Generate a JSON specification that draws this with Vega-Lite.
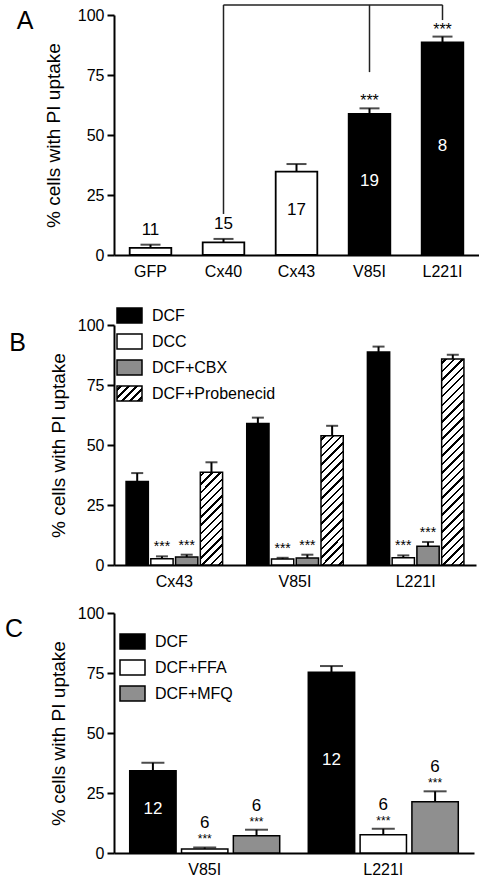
{
"$schema": "https://vega.github.io/schema/vega-lite/v6.json",
"background": "white",
"padding": {"left": 4, "top": 4, "right": 0, "bottom": 0},
"spacing": 16,
"resolve": {"scale": {"fill": "independent", "xOffset": "independent", "x": "independent", "y": "independent"}, "legend": {"fill": "independent"}},
"config": {
  "font": "Liberation Sans",
  "view": {"stroke": null},
  "axis": {"labelFont": "Liberation Sans", "labelFontSize": 16, "labelColor": "black", "titleFont": "Liberation Sans", "titleFontSize": 19, "titleFontWeight": "normal", "titleColor": "black", "domainColor": "black", "domainWidth": 2, "tickColor": "black", "tickWidth": 2, "grid": false},
  "axisX": {"ticks": false, "labelPadding": 8, "labelAngle": 0},
  "axisY": {"tickSize": 7, "labelPadding": 3},
  "legend": {"labelFont": "Liberation Sans", "labelFontSize": 16, "labelColor": "black", "symbolStrokeColor": "black", "symbolStrokeWidth": 1.5, "symbolType": "M-1,-0.6H1V0.6H-1Z", "symbolSize": 625, "symbolOpacity": 1, "labelOffset": 9, "rowPadding": 2},
  "title": {"fontWeight": "normal", "color": "black", "font": "Liberation Sans"},
  "text": {"font": "Liberation Sans"}
},
"vconcat": [
{
  "width": 365, "height": 240,
  "title": {"text": "A", "orient": "left", "anchor": "end", "angle": 0, "align": "right", "baseline": "top", "fontSize": 25, "offset": -5.9, "frame": "group", "dy": -6},
  "data": {"values": [
    {"genotype": "GFP", "value": 3.0, "err": 4.3, "n": "11", "sig": ""},
    {"genotype": "Cx40", "value": 5.3, "err": 6.7, "n": "15", "sig": ""},
    {"genotype": "Cx43", "value": 34.7, "err": 37.9, "n": "17", "sig": ""},
    {"genotype": "V85I", "value": 58.8, "err": 61.1, "n": "19", "sig": "***"},
    {"genotype": "L221I", "value": 88.6, "err": 91.0, "n": "8", "sig": "***"}
  ]},
  "encoding": {
    "x": {"field": "genotype", "type": "nominal", "sort": ["GFP", "Cx40", "Cx43", "V85I", "L221I"], "scale": {"paddingInner": 0.43, "paddingOuter": 0.215}, "title": null}
  },
  "layer": [
    {"mark": {"type": "bar", "stroke": "black", "strokeWidth": 1.8},
     "encoding": {
       "y": {"field": "value", "type": "quantitative", "scale": {"domain": [0, 100], "nice": false}, "title": "% cells with PI uptake", "axis": {"titlePadding": 14, "values": [0, 25, 50, 75, 100]}},
       "fill": {"condition": {"test": "datum.genotype==='V85I'||datum.genotype==='L221I'", "value": "black"}, "value": "white"}
     }},
    {"mark": {"type": "rule", "strokeWidth": 2, "color": "black"},
     "encoding": {"y": {"field": "value", "type": "quantitative", "title": "% cells with PI uptake", "axis": {"titlePadding": 14, "values": [0, 25, 50, 75, 100]}}, "y2": {"field": "err"}}},
    {"mark": {"type": "tick", "size": 20, "thickness": 2, "color": "black", "orient": "horizontal"},
     "encoding": {"y": {"field": "err", "type": "quantitative", "title": "% cells with PI uptake", "axis": {"titlePadding": 14, "values": [0, 25, 50, 75, 100]}}}},
    {"transform": [{"filter": "datum.value < 20"}],
     "mark": {"type": "text", "fontSize": 17, "baseline": "middle", "dy": -15, "color": "black"},
     "encoding": {"y": {"field": "err", "type": "quantitative", "title": "% cells with PI uptake", "axis": {"titlePadding": 14, "values": [0, 25, 50, 75, 100]}}, "text": {"field": "n"}}},
    {"transform": [{"filter": "datum.value >= 20"}, {"calculate": "datum.value / 2", "as": "mid"}],
     "mark": {"type": "text", "fontSize": 17, "baseline": "middle", "dy": -3},
     "encoding": {"y": {"field": "mid", "type": "quantitative", "title": "% cells with PI uptake", "axis": {"titlePadding": 14, "values": [0, 25, 50, 75, 100]}}, "text": {"field": "n"},
       "color": {"condition": {"test": "datum.genotype==='V85I'||datum.genotype==='L221I'", "value": "white"}, "value": "black"}}},
    {"transform": [{"filter": "datum.sig !== ''"}],
     "mark": {"type": "text", "fontSize": 16, "baseline": "middle", "dy": -7, "color": "black"},
     "encoding": {"y": {"field": "err", "type": "quantitative", "title": "% cells with PI uptake", "axis": {"titlePadding": 14, "values": [0, 25, 50, 75, 100]}}, "text": {"field": "sig"}}},
    {"data": {"values": [{}]},
     "mark": {"type": "rule", "strokeWidth": 1.5, "color": "#222222"},
     "encoding": {"x": {"datum": "Cx40"}, "x2": {"datum": "L221I"}, "y": {"datum": 104.2}}},
    {"data": {"values": [{}]},
     "mark": {"type": "rule", "strokeWidth": 1.5, "color": "#222222"},
     "encoding": {"x": {"datum": "Cx40"}, "y": {"datum": 104.2}, "y2": {"datum": 17.1}}},
    {"data": {"values": [{}]},
     "mark": {"type": "rule", "strokeWidth": 1.5, "color": "#222222"},
     "encoding": {"x": {"datum": "V85I"}, "y": {"datum": 104.2}, "y2": {"datum": 76.2}}},
    {"data": {"values": [{}]},
     "mark": {"type": "rule", "strokeWidth": 1.5, "color": "#222222"},
     "encoding": {"x": {"datum": "L221I"}, "y": {"datum": 104.2}, "y2": {"datum": 97.9}}}
  ]
},
{
  "width": 362, "height": 240,
  "title": {"text": "B", "orient": "left", "anchor": "end", "angle": 0, "align": "right", "baseline": "top", "fontSize": 25, "offset": 6.6, "frame": "group", "dy": 6},
  "data": {"values": [
    {"genotype": "Cx43", "treatment": "DCF", "value": 34.8, "err": 38.3, "sig": ""},
    {"genotype": "Cx43", "treatment": "DCC", "value": 2.6, "err": 3.6, "sig": "***"},
    {"genotype": "Cx43", "treatment": "DCF+CBX", "value": 3.3, "err": 4.3, "sig": "***"},
    {"genotype": "Cx43", "treatment": "DCF+Probenecid", "value": 38.6, "err": 42.8, "sig": ""},
    {"genotype": "V85I", "treatment": "DCF", "value": 59.0, "err": 61.4, "sig": ""},
    {"genotype": "V85I", "treatment": "DCC", "value": 2.5, "err": 3.0, "sig": "***"},
    {"genotype": "V85I", "treatment": "DCF+CBX", "value": 2.9, "err": 4.3, "sig": "***"},
    {"genotype": "V85I", "treatment": "DCF+Probenecid", "value": 53.9, "err": 58.0, "sig": ""},
    {"genotype": "L221I", "treatment": "DCF", "value": 88.7, "err": 91.0, "sig": ""},
    {"genotype": "L221I", "treatment": "DCC", "value": 3.0, "err": 4.0, "sig": "***"},
    {"genotype": "L221I", "treatment": "DCF+CBX", "value": 7.8, "err": 9.6, "sig": "***"},
    {"genotype": "L221I", "treatment": "DCF+Probenecid", "value": 85.8, "err": 87.6, "sig": ""}
  ]},
  "encoding": {
    "x": {"field": "genotype", "type": "nominal", "sort": ["Cx43", "V85I", "L221I"], "scale": {"paddingInner": 0.2, "paddingOuter": 0.1}, "title": null},
    "xOffset": {"field": "treatment", "type": "nominal", "sort": ["DCF", "DCC", "DCF+CBX", "DCF+Probenecid"], "scale": {"paddingInner": 0.1, "paddingOuter": 0}}
  },
  "layer": [
    {"mark": {"type": "bar", "stroke": "black", "strokeWidth": 1.5},
     "encoding": {
       "y": {"field": "value", "type": "quantitative", "scale": {"domain": [0, 100], "nice": false}, "title": "% cells with PI uptake", "axis": {"titlePadding": 9, "values": [0, 25, 50, 75, 100]}},
       "fill": {
         "field": "treatment", "type": "nominal",
         "scale": {"domain": ["DCF", "DCC", "DCF+CBX", "DCF+Probenecid"], "range": ["black", "white", "#8c8c8c",
           {"expr": "{gradient: 'linear', x1: 0, y1: 0, x2: 1.176, y2: 0.706, stops: [{offset: 0, color: 'white'}, {offset: 0.07, color: 'white'}, {offset: 0.07, color: 'black'}, {offset: 0.13, color: 'black'}, {offset: 0.13, color: 'white'}, {offset: 0.27, color: 'white'}, {offset: 0.27, color: 'black'}, {offset: 0.33, color: 'black'}, {offset: 0.33, color: 'white'}, {offset: 0.47, color: 'white'}, {offset: 0.47, color: 'black'}, {offset: 0.53, color: 'black'}, {offset: 0.53, color: 'white'}, {offset: 0.67, color: 'white'}, {offset: 0.67, color: 'black'}, {offset: 0.73, color: 'black'}, {offset: 0.73, color: 'white'}, {offset: 0.87, color: 'white'}, {offset: 0.87, color: 'black'}, {offset: 0.93, color: 'black'}, {offset: 0.93, color: 'white'}, {offset: 1, color: 'white'}]}"}]},
         "legend": {"title": null, "orient": "none", "legendX": -5, "legendY": -30, "padding": 7,
           "encode": {"symbols": {"update": {"stroke": {"value": "black"}, "strokeWidth": {"value": 1.5}}}}},
         "condition": [
           {"test": "datum.treatment==='DCF+Probenecid'&&datum.genotype==='Cx43'", "value":
             {"gradient": "linear", "x1": 0, "y1": 0, "x2": 0.2824, "y2": 1.1728, "stops": [
               {"offset": 0, "color": "white"},
               {"offset": 0.0252, "color": "white"}, {"offset": 0.0252, "color": "black"}, {"offset": 0.0462, "color": "black"}, {"offset": 0.0462, "color": "white"},
               {"offset": 0.0966, "color": "white"}, {"offset": 0.0966, "color": "black"}, {"offset": 0.1176, "color": "black"}, {"offset": 0.1176, "color": "white"},
               {"offset": 0.1681, "color": "white"}, {"offset": 0.1681, "color": "black"}, {"offset": 0.1891, "color": "black"}, {"offset": 0.1891, "color": "white"},
               {"offset": 0.2395, "color": "white"}, {"offset": 0.2395, "color": "black"}, {"offset": 0.2605, "color": "black"}, {"offset": 0.2605, "color": "white"},
               {"offset": 0.3109, "color": "white"}, {"offset": 0.3109, "color": "black"}, {"offset": 0.3319, "color": "black"}, {"offset": 0.3319, "color": "white"},
               {"offset": 0.3824, "color": "white"}, {"offset": 0.3824, "color": "black"}, {"offset": 0.4034, "color": "black"}, {"offset": 0.4034, "color": "white"},
               {"offset": 0.4538, "color": "white"}, {"offset": 0.4538, "color": "black"}, {"offset": 0.4748, "color": "black"}, {"offset": 0.4748, "color": "white"},
               {"offset": 0.5252, "color": "white"}, {"offset": 0.5252, "color": "black"}, {"offset": 0.5462, "color": "black"}, {"offset": 0.5462, "color": "white"},
               {"offset": 0.5966, "color": "white"}, {"offset": 0.5966, "color": "black"}, {"offset": 0.6176, "color": "black"}, {"offset": 0.6176, "color": "white"},
               {"offset": 0.6681, "color": "white"}, {"offset": 0.6681, "color": "black"}, {"offset": 0.6891, "color": "black"}, {"offset": 0.6891, "color": "white"},
               {"offset": 0.7395, "color": "white"}, {"offset": 0.7395, "color": "black"}, {"offset": 0.7605, "color": "black"}, {"offset": 0.7605, "color": "white"},
               {"offset": 0.8109, "color": "white"}, {"offset": 0.8109, "color": "black"}, {"offset": 0.8319, "color": "black"}, {"offset": 0.8319, "color": "white"},
               {"offset": 0.8824, "color": "white"}, {"offset": 0.8824, "color": "black"}, {"offset": 0.9034, "color": "black"}, {"offset": 0.9034, "color": "white"},
               {"offset": 0.9538, "color": "white"}, {"offset": 0.9538, "color": "black"}, {"offset": 0.9748, "color": "black"}, {"offset": 0.9748, "color": "white"},
               {"offset": 1, "color": "white"}]}},
           {"test": "datum.treatment==='DCF+Probenecid'&&datum.genotype==='V85I'", "value":
             {"gradient": "linear", "x1": 0, "y1": 0, "x2": 0.1962, "y2": 1.1385, "stops": [
               {"offset": 0, "color": "white"},
               {"offset": 0.0198, "color": "white"}, {"offset": 0.0198, "color": "black"}, {"offset": 0.0358, "color": "black"}, {"offset": 0.0358, "color": "white"},
               {"offset": 0.0753, "color": "white"}, {"offset": 0.0753, "color": "black"}, {"offset": 0.0913, "color": "black"}, {"offset": 0.0913, "color": "white"},
               {"offset": 0.1309, "color": "white"}, {"offset": 0.1309, "color": "black"}, {"offset": 0.1469, "color": "black"}, {"offset": 0.1469, "color": "white"},
               {"offset": 0.1864, "color": "white"}, {"offset": 0.1864, "color": "black"}, {"offset": 0.2024, "color": "black"}, {"offset": 0.2024, "color": "white"},
               {"offset": 0.242, "color": "white"}, {"offset": 0.242, "color": "black"}, {"offset": 0.258, "color": "black"}, {"offset": 0.258, "color": "white"},
               {"offset": 0.2976, "color": "white"}, {"offset": 0.2976, "color": "black"}, {"offset": 0.3136, "color": "black"}, {"offset": 0.3136, "color": "white"},
               {"offset": 0.3531, "color": "white"}, {"offset": 0.3531, "color": "black"}, {"offset": 0.3691, "color": "black"}, {"offset": 0.3691, "color": "white"},
               {"offset": 0.4087, "color": "white"}, {"offset": 0.4087, "color": "black"}, {"offset": 0.4247, "color": "black"}, {"offset": 0.4247, "color": "white"},
               {"offset": 0.4642, "color": "white"}, {"offset": 0.4642, "color": "black"}, {"offset": 0.4802, "color": "black"}, {"offset": 0.4802, "color": "white"},
               {"offset": 0.5198, "color": "white"}, {"offset": 0.5198, "color": "black"}, {"offset": 0.5358, "color": "black"}, {"offset": 0.5358, "color": "white"},
               {"offset": 0.5753, "color": "white"}, {"offset": 0.5753, "color": "black"}, {"offset": 0.5913, "color": "black"}, {"offset": 0.5913, "color": "white"},
               {"offset": 0.6309, "color": "white"}, {"offset": 0.6309, "color": "black"}, {"offset": 0.6469, "color": "black"}, {"offset": 0.6469, "color": "white"},
               {"offset": 0.6864, "color": "white"}, {"offset": 0.6864, "color": "black"}, {"offset": 0.7024, "color": "black"}, {"offset": 0.7024, "color": "white"},
               {"offset": 0.742, "color": "white"}, {"offset": 0.742, "color": "black"}, {"offset": 0.758, "color": "black"}, {"offset": 0.758, "color": "white"},
               {"offset": 0.7976, "color": "white"}, {"offset": 0.7976, "color": "black"}, {"offset": 0.8136, "color": "black"}, {"offset": 0.8136, "color": "white"},
               {"offset": 0.8531, "color": "white"}, {"offset": 0.8531, "color": "black"}, {"offset": 0.8691, "color": "black"}, {"offset": 0.8691, "color": "white"},
               {"offset": 0.9087, "color": "white"}, {"offset": 0.9087, "color": "black"}, {"offset": 0.9247, "color": "black"}, {"offset": 0.9247, "color": "white"},
               {"offset": 0.9642, "color": "white"}, {"offset": 0.9642, "color": "black"}, {"offset": 0.9802, "color": "black"}, {"offset": 0.9802, "color": "white"},
               {"offset": 1, "color": "white"}]}},
           {"test": "datum.treatment==='DCF+Probenecid'&&datum.genotype==='L221I'", "value":
             {"gradient": "linear", "x1": 0, "y1": 0, "x2": 0.1186, "y2": 1.0955, "stops": [
               {"offset": 0, "color": "white"},
               {"offset": 0.0132, "color": "white"}, {"offset": 0.0132, "color": "black"}, {"offset": 0.0238, "color": "black"}, {"offset": 0.0238, "color": "white"},
               {"offset": 0.0503, "color": "white"}, {"offset": 0.0503, "color": "black"}, {"offset": 0.0609, "color": "black"}, {"offset": 0.0609, "color": "white"},
               {"offset": 0.0873, "color": "white"}, {"offset": 0.0873, "color": "black"}, {"offset": 0.0979, "color": "black"}, {"offset": 0.0979, "color": "white"},
               {"offset": 0.1243, "color": "white"}, {"offset": 0.1243, "color": "black"}, {"offset": 0.1349, "color": "black"}, {"offset": 0.1349, "color": "white"},
               {"offset": 0.1614, "color": "white"}, {"offset": 0.1614, "color": "black"}, {"offset": 0.172, "color": "black"}, {"offset": 0.172, "color": "white"},
               {"offset": 0.1984, "color": "white"}, {"offset": 0.1984, "color": "black"}, {"offset": 0.209, "color": "black"}, {"offset": 0.209, "color": "white"},
               {"offset": 0.2354, "color": "white"}, {"offset": 0.2354, "color": "black"}, {"offset": 0.246, "color": "black"}, {"offset": 0.246, "color": "white"},
               {"offset": 0.2725, "color": "white"}, {"offset": 0.2725, "color": "black"}, {"offset": 0.2831, "color": "black"}, {"offset": 0.2831, "color": "white"},
               {"offset": 0.3095, "color": "white"}, {"offset": 0.3095, "color": "black"}, {"offset": 0.3201, "color": "black"}, {"offset": 0.3201, "color": "white"},
               {"offset": 0.3466, "color": "white"}, {"offset": 0.3466, "color": "black"}, {"offset": 0.3572, "color": "black"}, {"offset": 0.3572, "color": "white"},
               {"offset": 0.3836, "color": "white"}, {"offset": 0.3836, "color": "black"}, {"offset": 0.3942, "color": "black"}, {"offset": 0.3942, "color": "white"},
               {"offset": 0.4206, "color": "white"}, {"offset": 0.4206, "color": "black"}, {"offset": 0.4312, "color": "black"}, {"offset": 0.4312, "color": "white"},
               {"offset": 0.4577, "color": "white"}, {"offset": 0.4577, "color": "black"}, {"offset": 0.4683, "color": "black"}, {"offset": 0.4683, "color": "white"},
               {"offset": 0.4947, "color": "white"}, {"offset": 0.4947, "color": "black"}, {"offset": 0.5053, "color": "black"}, {"offset": 0.5053, "color": "white"},
               {"offset": 0.5317, "color": "white"}, {"offset": 0.5317, "color": "black"}, {"offset": 0.5423, "color": "black"}, {"offset": 0.5423, "color": "white"},
               {"offset": 0.5688, "color": "white"}, {"offset": 0.5688, "color": "black"}, {"offset": 0.5794, "color": "black"}, {"offset": 0.5794, "color": "white"},
               {"offset": 0.6058, "color": "white"}, {"offset": 0.6058, "color": "black"}, {"offset": 0.6164, "color": "black"}, {"offset": 0.6164, "color": "white"},
               {"offset": 0.6428, "color": "white"}, {"offset": 0.6428, "color": "black"}, {"offset": 0.6534, "color": "black"}, {"offset": 0.6534, "color": "white"},
               {"offset": 0.6799, "color": "white"}, {"offset": 0.6799, "color": "black"}, {"offset": 0.6905, "color": "black"}, {"offset": 0.6905, "color": "white"},
               {"offset": 0.7169, "color": "white"}, {"offset": 0.7169, "color": "black"}, {"offset": 0.7275, "color": "black"}, {"offset": 0.7275, "color": "white"},
               {"offset": 0.754, "color": "white"}, {"offset": 0.754, "color": "black"}, {"offset": 0.7646, "color": "black"}, {"offset": 0.7646, "color": "white"},
               {"offset": 0.791, "color": "white"}, {"offset": 0.791, "color": "black"}, {"offset": 0.8016, "color": "black"}, {"offset": 0.8016, "color": "white"},
               {"offset": 0.828, "color": "white"}, {"offset": 0.828, "color": "black"}, {"offset": 0.8386, "color": "black"}, {"offset": 0.8386, "color": "white"},
               {"offset": 0.8651, "color": "white"}, {"offset": 0.8651, "color": "black"}, {"offset": 0.8757, "color": "black"}, {"offset": 0.8757, "color": "white"},
               {"offset": 0.9021, "color": "white"}, {"offset": 0.9021, "color": "black"}, {"offset": 0.9127, "color": "black"}, {"offset": 0.9127, "color": "white"},
               {"offset": 0.9391, "color": "white"}, {"offset": 0.9391, "color": "black"}, {"offset": 0.9497, "color": "black"}, {"offset": 0.9497, "color": "white"},
               {"offset": 0.9762, "color": "white"}, {"offset": 0.9762, "color": "black"}, {"offset": 0.9868, "color": "black"}, {"offset": 0.9868, "color": "white"},
               {"offset": 1, "color": "white"}]}}
         ]
       }
     }},
    {"mark": {"type": "rule", "strokeWidth": 2, "color": "black"},
     "encoding": {"y": {"field": "value", "type": "quantitative", "title": "% cells with PI uptake", "axis": {"titlePadding": 9, "values": [0, 25, 50, 75, 100]}}, "y2": {"field": "err"}}},
    {"mark": {"type": "tick", "size": 12, "thickness": 2, "color": "black", "orient": "horizontal"},
     "encoding": {"y": {"field": "err", "type": "quantitative", "title": "% cells with PI uptake", "axis": {"titlePadding": 9, "values": [0, 25, 50, 75, 100]}}}},
    {"transform": [{"filter": "datum.sig !== ''"}],
     "mark": {"type": "text", "fontSize": 14, "baseline": "middle", "dy": -9, "color": "black"},
     "encoding": {"y": {"field": "err", "type": "quantitative", "title": "% cells with PI uptake", "axis": {"titlePadding": 9, "values": [0, 25, 50, 75, 100]}}, "text": {"field": "sig"}}}
  ]
},
{
  "width": 360, "height": 240,
  "title": {"text": "C", "orient": "left", "anchor": "end", "angle": 0, "align": "right", "baseline": "top", "fontSize": 25, "offset": 8.2, "frame": "group", "dy": 4},
  "data": {"values": [
    {"genotype": "V85I", "treatment": "DCF", "value": 34.3, "err": 37.6, "n": "12", "sig": ""},
    {"genotype": "V85I", "treatment": "DCF+FFA", "value": 1.7, "err": 2.3, "n": "6", "sig": "***"},
    {"genotype": "V85I", "treatment": "DCF+MFQ", "value": 7.2, "err": 9.7, "n": "6", "sig": "***"},
    {"genotype": "L221I", "treatment": "DCF", "value": 75.3, "err": 77.9, "n": "12", "sig": ""},
    {"genotype": "L221I", "treatment": "DCF+FFA", "value": 7.6, "err": 10.1, "n": "6", "sig": "***"},
    {"genotype": "L221I", "treatment": "DCF+MFQ", "value": 21.4, "err": 25.7, "n": "6", "sig": "***"}
  ]},
  "encoding": {
    "x": {"field": "genotype", "type": "nominal", "sort": ["V85I", "L221I"], "scale": {"paddingInner": 0.16, "paddingOuter": 0.088}, "title": null},
    "xOffset": {"field": "treatment", "type": "nominal", "sort": ["DCF", "DCF+FFA", "DCF+MFQ"], "scale": {"paddingInner": 0.105, "paddingOuter": 0}}
  },
  "layer": [
    {"mark": {"type": "bar", "stroke": "black", "strokeWidth": 1.5},
     "encoding": {
       "y": {"field": "value", "type": "quantitative", "scale": {"domain": [0, 100], "nice": false}, "title": "% cells with PI uptake", "axis": {"titlePadding": 9, "values": [0, 25, 50, 75, 100]}},
       "fill": {"field": "treatment", "type": "nominal",
         "scale": {"domain": ["DCF", "DCF+FFA", "DCF+MFQ"], "range": ["black", "white", "#8f8f8f"]},
         "legend": {"title": null, "orient": "none", "legendX": 5, "legendY": 15}}
     }},
    {"mark": {"type": "rule", "strokeWidth": 2, "color": "black"},
     "encoding": {"y": {"field": "value", "type": "quantitative", "title": "% cells with PI uptake", "axis": {"titlePadding": 9, "values": [0, 25, 50, 75, 100]}}, "y2": {"field": "err"}}},
    {"mark": {"type": "tick", "size": 23, "thickness": 2, "color": "black", "orient": "horizontal"},
     "encoding": {"y": {"field": "err", "type": "quantitative", "title": "% cells with PI uptake", "axis": {"titlePadding": 9, "values": [0, 25, 50, 75, 100]}}}},
    {"transform": [{"filter": "datum.sig !== ''"}],
     "mark": {"type": "text", "fontSize": 12, "baseline": "middle", "dy": -8, "color": "black"},
     "encoding": {"y": {"field": "err", "type": "quantitative", "title": "% cells with PI uptake", "axis": {"titlePadding": 9, "values": [0, 25, 50, 75, 100]}}, "text": {"field": "sig"}}},
    {"transform": [{"filter": "datum.sig !== ''"}],
     "mark": {"type": "text", "fontSize": 17, "baseline": "middle", "dy": -24, "color": "black"},
     "encoding": {"y": {"field": "err", "type": "quantitative", "title": "% cells with PI uptake", "axis": {"titlePadding": 9, "values": [0, 25, 50, 75, 100]}}, "text": {"field": "n"}}},
    {"transform": [{"filter": "datum.sig === ''"}, {"calculate": "datum.value / 2", "as": "mid"}],
     "mark": {"type": "text", "fontSize": 17, "baseline": "middle", "dy": -3, "color": "white"},
     "encoding": {"y": {"field": "mid", "type": "quantitative", "title": "% cells with PI uptake", "axis": {"titlePadding": 9, "values": [0, 25, 50, 75, 100]}}, "text": {"field": "n"}}}
  ]
}
]
}
